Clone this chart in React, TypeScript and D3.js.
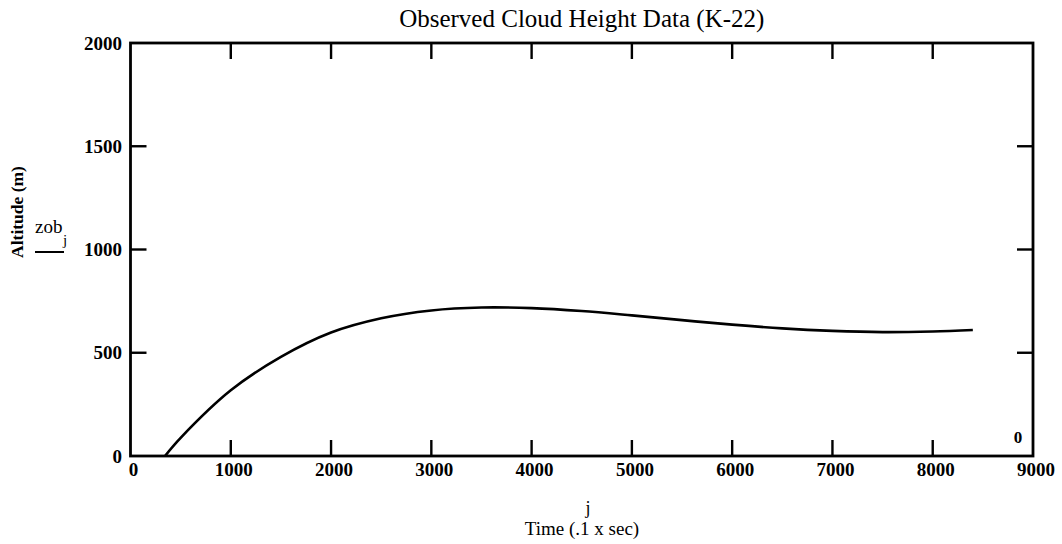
import React from "react";
import * as d3 from "d3";

// Observed cloud top altitude against sample index j (tenths of a second)
const timeSamples = [344, 500, 1000, 1500, 2000, 2500, 3000, 3500, 4000, 4500, 5000, 5500, 6000, 6500, 7000, 7500, 8000, 8400];
const altitudeSamples = [0, 88, 318, 480, 598, 667, 705, 719, 716, 702, 681, 658, 636, 618, 606, 600, 603, 610];

const xTickValues = [0, 1000, 2000, 3000, 4000, 5000, 6000, 7000, 8000, 9000];
const yTickValues = [0, 500, 1000, 1500, 2000];

const titleText = "Observed Cloud Height Data (K-22)";
const xAxisTitle = "Time (.1 x sec)";
const yAxisTitle = "Altitude (m)";

const W = 1062;
const H = 544;
const left = 130.5;
const right = 1033;
const top = 43;
const bottom = 456;
const tickLen = 16;

const serif = "'Liberation Serif', 'Times New Roman', serif";

export default function App() {
  const x = d3.scaleLinear().domain([0, 9000]).range([left, right]);
  const y = d3.scaleLinear().domain([0, 2000]).range([bottom, top]);

  const points: [number, number][] = timeSamples.map((t, i) => [t, altitudeSamples[i]]);
  const line = d3
    .line<[number, number]>()
    .x((d) => x(d[0]))
    .y((d) => y(d[1]))
    .curve(d3.curveCatmullRom.alpha(0.5));

  const innerX = xTickValues.slice(1, -1);
  const innerY = yTickValues.slice(1, -1);

  return (
    <svg
      width={W}
      height={H}
      style={{ position: "absolute", left: 0, top: 0, background: "#fff" }}
    >
      <defs>
        <clipPath id="plot-area">
          <rect x={left} y={top} width={right - left} height={bottom - top} />
        </clipPath>
      </defs>

      {/* title */}
      <text x={(left + right) / 2} y={27} textAnchor="middle" fontFamily={serif} fontSize={25} fill="#000">
        {titleText}
      </text>

      {/* trace */}
      <path
        d={line(points) || ""}
        fill="none"
        stroke="#000"
        strokeWidth={2.6}
        clipPath="url(#plot-area)"
      />

      {/* frame */}
      <rect x={left} y={top} width={right - left} height={bottom - top} fill="none" stroke="#000" strokeWidth={2.8} />

      {/* inward ticks, bottom and top */}
      {innerX.map((v) => (
        <g key={"xt" + v} stroke="#000" strokeWidth={2.4}>
          <line x1={x(v)} x2={x(v)} y1={bottom} y2={bottom - tickLen} />
          <line x1={x(v)} x2={x(v)} y1={top} y2={top + tickLen} />
        </g>
      ))}
      {/* inward ticks, left and right */}
      {innerY.map((v) => (
        <g key={"yt" + v} stroke="#000" strokeWidth={2.4}>
          <line x1={left} x2={left + tickLen} y1={y(v)} y2={y(v)} />
          <line x1={right} x2={right - tickLen} y1={y(v)} y2={y(v)} />
        </g>
      ))}

      {/* x tick labels */}
      {xTickValues.map((v) => (
        <text
          key={"xl" + v}
          x={x(v) + 3}
          y={476}
          textAnchor="middle"
          fontFamily={serif}
          fontWeight="bold"
          fontSize={19}
          fill="#000"
        >
          {v}
        </text>
      ))}

      {/* y tick labels */}
      {yTickValues.map((v) => (
        <text
          key={"yl" + v}
          x={122}
          y={y(v) + 6.5}
          textAnchor="end"
          fontFamily={serif}
          fontWeight="bold"
          fontSize={19}
          fill="#000"
        >
          {v}
        </text>
      ))}

      {/* right-hand axis marker */}
      <text x={1018} y={443} textAnchor="middle" fontFamily={serif} fontWeight="bold" fontSize={17} fill="#000">
        0
      </text>

      {/* x axis expression and title */}
      <text x={588} y={514} textAnchor="middle" fontFamily={serif} fontSize={18} fill="#000">
        j
      </text>
      <text x={582} y={535} textAnchor="middle" fontFamily={serif} fontSize={19} fill="#000">
        {xAxisTitle}
      </text>

      {/* y axis title */}
      <text
        transform={`translate(23, 212) rotate(-90)`}
        textAnchor="middle"
        fontFamily={serif}
        fontWeight="bold"
        fontSize={17.5}
        fill="#000"
      >
        {yAxisTitle}
      </text>

      {/* y axis expression with trace sample */}
      <text x={35} y={233} fontFamily={serif} fontSize={19} fill="#000">
        zob
      </text>
      <text x={63} y={245} fontFamily={serif} fontSize={15} fill="#000">
        j
      </text>
      <line x1={35} x2={64} y1={252} y2={252} stroke="#000" strokeWidth={2} />
    </svg>
  );
}
